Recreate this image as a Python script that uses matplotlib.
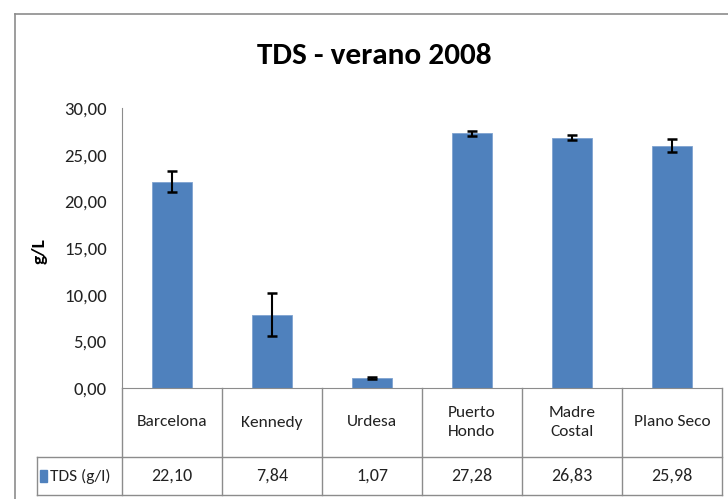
import matplotlib.pyplot as plt
from matplotlib.patches import Rectangle
from matplotlib.lines import Line2D

plt.rcParams['font.family'] = ['Carlito', 'DejaVu Sans']

sites = ['Barcelona', 'Kennedy', 'Urdesa', 'Puerto\nHondo', 'Madre\nCostal', 'Plano Seco']
tds = [22.10, 7.84, 1.07, 27.28, 26.83, 25.98]
err = [1.1, 2.3, 0.15, 0.25, 0.3, 0.7]
yticks = [0, 5, 10, 15, 20, 25, 30]
series_name = 'TDS (g/l)'

W, H = 728, 499
fig = plt.figure(figsize=(W / 100, H / 100), dpi=100)
ax = fig.add_axes([122 / W, 1 - 388 / H, 600 / W, 280 / H])

bar_color = '#4F81BD'
x = list(range(len(sites)))
ax.bar(x, tds, width=0.4, color=bar_color, edgecolor='#7FA3D0', linewidth=0.6, zorder=2)
ax.errorbar(x, tds, yerr=err, fmt='none', ecolor='black', elinewidth=1.5,
            capsize=3.5, capthick=1.8, zorder=3)

ax.set_xlim(-0.5, len(sites) - 0.5)
ax.set_ylim(0, 30)
ax.set_yticks(yticks)
ax.set_yticklabels([f'{v:.2f}'.replace('.', ',') for v in yticks], fontsize=13.5,
                   color='#222222')
ax.set_xticks([])
for s in ['top', 'right']:
    ax.spines[s].set_visible(False)
for s in ['left', 'bottom']:
    ax.spines[s].set_color('#8C8C8C')
ax.tick_params(axis='y', length=0, pad=11)

ax.set_ylabel('g/L', fontsize=14, fontweight='bold')
ax.yaxis.set_label_coords((48 - 122) / 600, 0.49)
fig.text(374 / W, 1 - 56 / H, 'TDS - verano 2008', ha='center', va='center',
         fontsize=22.5, fontweight='bold')

# data table under the chart
row1 = (388 - 457) / 280
row2 = (388 - 495) / 280
left_x = -0.5 + (37 - 122) / 100
tr = ax.get_xaxis_transform()
lc = '#8C8C8C'
for b in [i - 0.5 for i in range(len(sites) + 1)]:
    ax.add_line(Line2D([b, b], [0, row2], transform=tr, color=lc, lw=1, clip_on=False))
for yy in [row1, row2]:
    ax.add_line(Line2D([left_x, len(sites) - 0.5], [yy, yy], transform=tr, color=lc,
                       lw=1, clip_on=False))
ax.add_line(Line2D([left_x, left_x], [row1, row2], transform=tr, color=lc, lw=1, clip_on=False))

for i, (name, v) in enumerate(zip(sites, tds)):
    ax.text(i, row1 / 2, name, transform=tr, ha='center', va='center', fontsize=12.5,
            linespacing=1.45, color='#222222')
    ax.text(i, (row1 + row2) / 2, f'{v:.2f}'.replace('.', ','), transform=tr,
            ha='center', va='center', fontsize=13, color='#222222')

ax.add_patch(Rectangle((left_x + 0.03, (row1 + row2) / 2 - 0.022), 0.07, 0.044,
                       transform=tr, color=bar_color, clip_on=False))
ax.text(left_x + 0.13, (row1 + row2) / 2, series_name, transform=tr, ha='left',
        va='center', fontsize=12.5, color='#222222')

# chart border
fig.add_artist(Line2D([15 / W, 15 / W], [0, 1 - 14 / H], color='#8C8C8C', lw=1.2))
fig.add_artist(Line2D([15 / W, 1], [1 - 14 / H, 1 - 14 / H], color='#8C8C8C', lw=1.2))

fig.savefig('out.png', dpi=100)
